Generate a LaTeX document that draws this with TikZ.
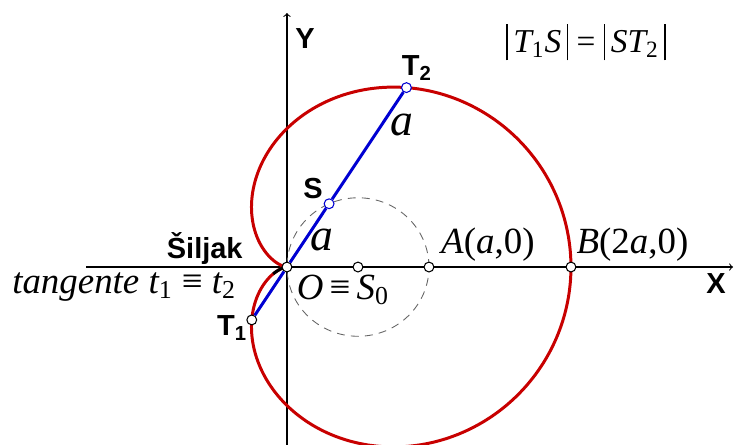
\documentclass[tikz,border=0pt]{standalone}
\usepackage{fontspec}
\setmainfont{Liberation Serif}
\setsansfont{Liberation Sans}
\usetikzlibrary{calc}
\definecolor{curvered}{RGB}{200,0,0}
\definecolor{chordblue}{RGB}{0,0,210}
\newcommand{\sub}[1]{\textsubscript{\upshape #1}}
\newcommand{\absbar}{\rule[-0.22em]{0.045em}{1.1em}}

\begin{document}
\begin{tikzpicture}[x=2.84cm, y=2.77cm,
    pt/.style={circle, draw=black, fill=white, line width=0.6pt, inner sep=0pt, minimum size=5.6pt},
    bluept/.style={pt, draw=chordblue},
    sanslbl/.style={font=\sffamily\bfseries\fontsize{16.5}{19}\selectfont, inner sep=0pt},
    serlbl/.style={font=\itshape\fontsize{21}{24}\selectfont, inner sep=0pt},
    biglbl/.style={font=\itshape\fontsize{26}{30}\selectfont, inner sep=0pt}]
    \useasboundingbox (-2.021,-1.278) rectangle (3.155,1.928);

    %axes
        \coordinate (xl) at (-1.415,0);
        \coordinate (xr) at (3.141,0);
        \coordinate (yb) at (0,-1.3);
        \coordinate (yt) at (0,1.834);
        \draw[line width=0.6pt, -to] (xl) -- (xr);
        \draw[line width=0.6pt, -to] (yb) -- (yt);

    %circle through O and A
        \draw[gray!80!black, line width=0.5pt, dash pattern=on 4.5pt off 3.5pt] (0.5,0) circle (0.5);

    %cardioid r = a(1+cos t)
        \draw[curvered, line width=1.7pt, domain=0:360, samples=241, variable=\t, smooth]
            plot ({(1+cos(\t))*cos(\t)}, {(1+cos(\t))*sin(\t)});
        \draw[black, line width=1.7pt, domain=180:207, samples=20, variable=\t, smooth]
            plot ({(1+cos(\t))*cos(\t)}, {(1+cos(\t))*sin(\t)});

    %mark points
        \node[pt] (O) at (0,0) {};
        \node[pt] (S0) at (0.5,0) {};
        \node[pt] (A) at (1,0) {};
        \node[pt] (B) at (2,0) {};
        \node[pt] (T1) at (237:0.4554) {};
        \node[bluept] (S) at (57:0.5446) {};
        \node[bluept] (T2) at (57:1.5446) {};

    %chord through the cusp
        \draw[chordblue, line width=1.7pt] (T1) -- (O) -- (S) -- (T2);

    %labels
        \node[sanslbl] (lY) at (0.127,1.653) {Y};
        \node[sanslbl] (lX) at (3.021,-0.116) {X};
        \node[sanslbl] (lT2) at (0.915,1.437) {T\sub{2}};
        \node[sanslbl] (lS) at (0.183,0.570) {S};
        \node[sanslbl] (lT1) at (-0.387,-0.440) {T\sub{1}};
        \node[sanslbl, anchor=east] (lcusp) at (-0.310,0.137) {Šiljak};
        \node[biglbl] (la2) at (0.810,1.025) {a};
        \node[biglbl] (la1) at (0.246,0.195) {a};
        \node[serlbl, anchor=west] (ltan) at (-1.937,-0.144) {tangente t\sub{1} \textup{≡} t\sub{2}};
        \node[serlbl] (lO) at (0.394,-0.166) {O\,\textup{≡}\,S\sub{0}};
        \node[serlbl] (lA) at (1.415,0.159) {A\textup{(}a\textup{,0)}};
        \node[serlbl] (lB) at (2.433,0.159) {B\textup{(2}a\textup{,0)}};
        \node[serlbl, font=\itshape\fontsize{19}{22}\selectfont] (lrel) at (2.106,1.625)
            {\absbar\,T\sub{1}S\,\absbar\ \textup{=} \absbar\,ST\sub{2}\,\absbar};
\end{tikzpicture}
\end{document}
